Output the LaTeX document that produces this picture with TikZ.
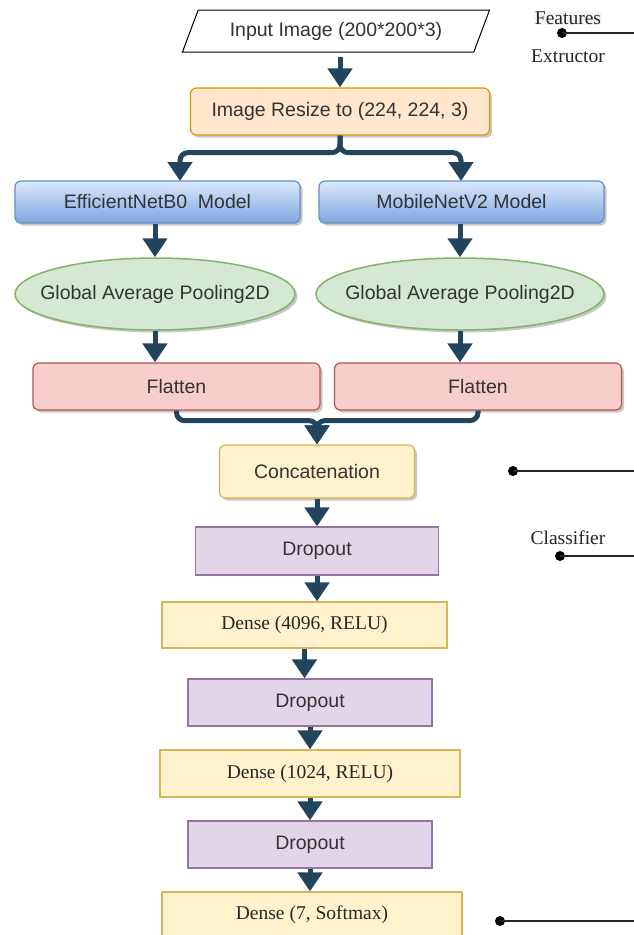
\documentclass[tikz,border=0pt]{standalone}
\usepackage{fontspec}
\setmainfont{Liberation Serif}
\setsansfont{Liberation Sans}
\usetikzlibrary{arrows.meta,shapes.geometric,shadows}
\definecolor{arrowc}{HTML}{23445D}
\definecolor{txt}{HTML}{333333}
\definecolor{orfill}{HTML}{FFE6CC}\definecolor{orline}{HTML}{D79B00}
\definecolor{bltop}{HTML}{DAE8FC}\definecolor{blbot}{HTML}{7EA6E0}\definecolor{blline}{HTML}{6C8EBF}
\definecolor{grfill}{HTML}{D5E8D4}\definecolor{grline}{HTML}{82B366}
\definecolor{rdfill}{HTML}{F8CECC}\definecolor{rdline}{HTML}{B85450}
\definecolor{ylfill}{HTML}{FFF2CC}\definecolor{ylline}{HTML}{D6B656}
\definecolor{pufill}{HTML}{E1D5E7}\definecolor{puline}{HTML}{9673A6}
\tikzset{
  basebox/.style={draw, line width=1.2pt, inner sep=0pt, text=txt,
    font=\sffamily\fontsize{19.5}{23}\selectfont},
  shad/.style={drop shadow={shadow xshift=2.5pt, shadow yshift=-2.5pt, fill=black, opacity=0.22}},
  rbox/.style={basebox, rounded corners=6pt, shad},
  orbox/.style={rbox, fill=orfill, draw=orline},
  blbox/.style={rbox, top color=bltop, bottom color=blbot, draw=blline},
  grell/.style={basebox, ellipse, fill=grfill, draw=grline, line width=1.5pt, shad},
  rdbox/.style={rbox, fill=rdfill, draw=rdline},
  ylrbox/.style={rbox, fill=ylfill, draw=ylline},
  pubox/.style={basebox, fill=pufill, draw=puline},
  densebox/.style={basebox, fill=ylfill, draw=ylline, text=black!85,
    font=\rmfamily\fontsize{19.5}{23}\selectfont},
  inbox/.style={basebox, trapezium, trapezium left angle=56.3, trapezium right angle=123.7,
    trapezium stretches=true, fill=white, draw=black, line width=1pt},
  flow/.style={draw=arrowc, line width=5pt, -{Triangle[width=24pt,length=19pt]}},
  flowr/.style={flow, rounded corners=8pt},
  lbl/.style={font=\rmfamily\fontsize{19.5}{23}\selectfont, text=black!85, inner sep=1pt},
  dotn/.style={circle, fill=black, inner sep=0pt, minimum size=10pt},
  rule/.style={line width=1.3pt, draw=black!85}
}
\begin{document}
\begin{tikzpicture}[x=1pt,y=-1pt]
\clip (0,0) rectangle (634,935);
\fill[white] (0,0) rectangle (634,935);

% nodes
\node[inbox, minimum width=308pt, minimum height=42pt] (input) at (336,31) {Input Image (200*200*3)};
\node[orbox, minimum width=299pt, minimum height=47pt] (resize) at (340,111.5) {Image Resize to (224, 224, 3)};
\node[blbox, minimum width=285pt, minimum height=42pt] (eff) at (157.5,202) {EfficientNetB0\ \ Model};
\node[blbox, minimum width=285pt, minimum height=42pt] (mob) at (461.5,202) {MobileNetV2 Model};
\node[grell, minimum width=280pt, minimum height=72pt] (gapl) at (155,294) {\makebox[0pt]{Global Average Pooling2D}};
\node[grell, minimum width=288pt, minimum height=72pt] (gapr) at (460,294) {\makebox[0pt]{Global Average Pooling2D}};
\node[rdbox, minimum width=287pt, minimum height=47pt] (flatl) at (176.5,386.5) {Flatten};
\node[rdbox, minimum width=287pt, minimum height=47pt] (flatr) at (478,386.5) {Flatten};
\node[ylrbox, minimum width=195pt, minimum height=53pt] (concat) at (317,471.5) {Concatenation};
\node[pubox, minimum width=243pt, minimum height=48pt] (drop1) at (317,551) {Dropout};
\node[densebox, minimum width=285pt, minimum height=46pt] (dense1) at (304.5,625) {Dense (4096, RELU)};
\node[pubox, minimum width=244pt, minimum height=47pt] (drop2) at (310,702.5) {Dropout};
\node[densebox, minimum width=300pt, minimum height=47pt] (dense2) at (310,773.5) {Dense (1024, RELU)};
\node[pubox, minimum width=244pt, minimum height=47pt] (drop3) at (310,844.5) {Dropout};
\node[densebox, minimum width=300pt, minimum height=46pt] (dense3) at (312,915) {Dense (7, Softmax)};

% branch targets
\coordinate (effin) at (180,181);
\coordinate (mobin) at (461,181);

% connectors
\draw[flow, shorten <=4pt] (input.south -| resize.north) -- (resize.north);
\draw[flowr] (resize.south) -- ++(0,17) -| (effin);
\draw[flowr] (resize.south) -- ++(0,17) -| (mobin);
\draw[flow] (eff.south -| gapl.north) -- (gapl.north);
\draw[flow] (mob.south -| gapr.north) -- (gapr.north);
\draw[flow] (gapl.south) -- (gapl.south |- flatl.north);
\draw[flow] (gapr.south) -- (gapr.south |- flatr.north);
\draw[flowr] (flatl.south) -- ++(0,10) -| (concat.north);
\draw[flowr] (flatr.south) -- ++(0,10) -| (concat.north);
\draw[flow] (concat.south) -- (drop1.north);
\draw[flow] (drop1.south) -- (drop1.south |- dense1.north);
\draw[flow] (dense1.south) -- (dense1.south |- drop2.north);
\draw[flow] (drop2.south) -- (drop2.south |- dense2.north);
\draw[flow] (dense2.south) -- (dense2.south |- drop3.north);
\draw[flow] (drop3.south) -- (drop3.south |- dense3.north);

% right-side annotations
\node[lbl, fill=black!4] (feat) at (568,18) {Features};
\node[lbl] (extr) at (568,56) {Extructor};
\node[lbl] (clas) at (568,538) {Classifier};
\node[dotn] (d1) at (562,33) {};
\node[dotn] (d2) at (513,471) {};
\node[dotn] (d3) at (560,556) {};
\node[dotn] (d4) at (500,921) {};
\coordinate (e1) at (640,33);
\coordinate (e2) at (640,471);
\coordinate (e3) at (640,556);
\coordinate (e4) at (640,921);
\draw[rule] (d1.center) -- (e1);
\draw[rule] (d2.center) -- (e2);
\draw[rule] (d3.center) -- (e3);
\draw[rule] (d4.center) -- (e4);
\end{tikzpicture}
\end{document}
